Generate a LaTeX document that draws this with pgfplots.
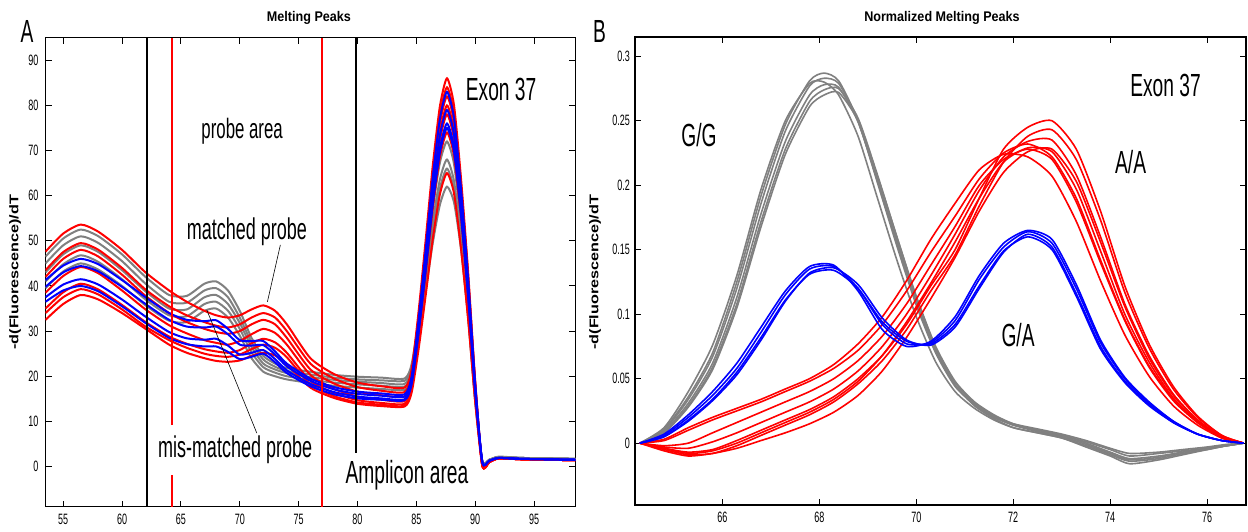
\documentclass[border=0pt]{standalone}
\usepackage{fontspec}
\setmainfont{Liberation Sans}[FakeStretch=0.6]
\newfontfamily\labfont{Liberation Sans}[FakeStretch=0.9]
\usepackage{pgfplots}
\usepackage{pgfplotstable}
\pgfplotsset{compat=1.18}

\definecolor{gcol}{RGB}{128,128,128}
\definecolor{rcol}{RGB}{255,0,0}
\definecolor{bcol}{RGB}{0,0,255}

% panel A: raw melting peaks, 5 G/G, 7 A/A, 4 G/A traces
\pgfplotstableread{
x    g1   g2   g3   g4   g5   r1   r2   r3   r4   r5   r6   r7   b1   b2   b3   b4
53.5 46.5 45   43   41   39.5 47.6 43.5 42   38.5 35   34   32.5 41.3 39.8 37.5 36.5
55   50.5 49   47   44.8 43.2 51.6 47.5 46   42.2 38.6 37.5 36   44.5 43   40.3 39
56.5 52.5 51   49   46.8 45   53.6 49.5 48   44.2 40.5 39.3 38   46   44.4 41.5 40
58   51   49.5 47.5 45.3 43.6 52   48   46.5 42.8 39.2 38.1 37   44.8 43.2 40.3 38.8
60   47   45.5 43.5 41.5 40   48   44   42.5 39   35.8 34.8 34   41.3 39.8 37   35.5
62   42   40.5 38.8 37   35.7 43   39.2 37.8 34.8 32   31   30.5 37.5 36   33.2 31.8
64   38   36.5 35   33.5 32.3 39   35.5 34   31.3 28.8 28   27   34   32.5 29.8 28.5
65.5 37.8 36.3 34.8 33.3 32   36.5 33.5 32   29.5 27.2 26.3 25.2 32.5 31   28.4 27.1
67   40.5 39   37.5 36   34.5 34.5 32   30.5 28   26   25   24   32.2 30.8 28.1 26.6
68   41   39.5 38   36.5 35   33.5 31.2 29.8 27.4 25.5 24.5 23.4 32.4 31   28.3 26.6
69   39   37.5 36   34.5 33   33   30.8 29.4 27   25.2 24.3 23.2 30.5 29.3 26.8 25.4
70   34.5 33   31.8 30.5 29   33.5 31.5 30   27.8 25.8 24.8 23.5 28   27   24.8 23.8
71   28.5 27.5 26.5 25.3 24   34.8 33   31.5 29.3 27.3 26   24.5 27.8 26.8 25.2 24.3
72   24.5 23.7 22.8 22   21   35.7 34   32.5 30.5 28.3 27   25.2 27.8 26.9 25.8 25
73   22.8 22.1 21.5 20.8 20   34.5 33   31.5 29.6 27.5 26.3 24.6 25.5 24.8 23.8 23.1
74   21.8 21.2 20.7 20   19.3 31.5 30   28.5 27   25.2 24.2 22.6 22.8 22.2 21.3 20.7
76   21   20.4 19.8 19.2 18.5 24   22.8 21.5 20.3 19   18.2 17.5 19.5 19   18.3 17.8
78   20.3 19.7 19.2 18.6 17.9 20.5 19.5 18.4 17.2 16.3 15.6 15.2 17.6 17.1 16.5 16
80   19.9 19.3 18.8 18.2 17.5 18.6 17.6 16.6 15.5 14.7 14.2 13.9 16.6 16.1 15.5 15.1
82   19.7 19.1 18.5 17.9 17.2 17.8 16.8 15.8 14.8 14.1 13.7 13.4 16.2 15.7 15.1 14.8
84   19.5 19   18.3 17.7 17   17.5 16.5 15.5 14.5 13.9 13.5 13.3 16   15.5 14.9 14.7
84.6 22.7 21.9 21.7 20.4 19.9 21.6 20.6 19.5 18.3 17.5 17.5 16.4 20   19.3 18.6 18.3
85.2 32.6 31.3 32.5 28.8 29.3 34.6 33.4 32.1 30.4 28.9 30.1 26.2 32.8 31.4 30.2 29.8
85.8 44.7 42.5 45.5 39   40.5 50.4 48.9 47.4 45   42.7 45.4 38.1 48.2 46   44.2 43.6
86.4 57.3 54.3 59.1 49.6 52.3 66.8 65.1 63.4 60.2 57.2 61.4 50.5 64.2 61.2 58.9 58.1
87.0 67.3 63.6 69.9 58   61.6 79.8 77.9 76   72.3 68.6 74   60.3 77   73.3 70.5 69.6
87.6 72   68   75   62   66   86   84   82   78   74   80   65   83   79   76   75
88.2 67   63.2 69.8 58.5 61.4 80   78.1 76.3 72.5 68.8 74.4 60.5 77.2 73.5 70.7 69.8
88.8 53.3 50.3 55.5 48   48.8 63.6 62.2 60.7 57.7 54.8 59.2 48.1 61.4 58.5 56.2 55.5
89.4 36   34   37.5 33   33   43   42   41   39   37   40   32.5 41.5 39.5 38   37.5
90.0 15.8 15   16.5 14.5 14.5 18.9 18.5 18   17.2 16.3 17.6 14.3 18.3 17.4 16.7 16.5
90.6 1.2  1.2  1.2  1.2  1.2  0.3  0.3  0.3  0.3  0.3  0.3  0.3  1.0  1.0  1.0  1.0
91.2 1.5  1.5  1.5  1.5  1.5  1.0  1.0  1.0  1.0  1.0  1.0  1.0  1.3  1.3  1.3  1.3
92   2.1  2.1  2.2  2.1  2.1  1.8  1.8  1.8  1.8  1.8  1.8  1.8  1.9  1.9  1.9  1.9
94   1.9  1.9  1.9  1.9  1.9  1.6  1.6  1.6  1.6  1.6  1.6  1.6  1.7  1.7  1.7  1.7
98.5 1.7  1.7  1.7  1.7  1.7  1.4  1.4  1.4  1.4  1.4  1.4  1.4  1.5  1.5  1.5  1.5
}\tabA

% panel B: normalized peaks
\pgfplotstableread{
x     g1    g2    g3    g4    g5    g6
64.3  0     0     0     0     0     0
64.8  .011  .010  .009  .008  .008  .012
65.3  .036  .034  .031  .029  .028  .040
65.8  .070  .067  .062  .059  .057  .076
66.3  .125  .120  .113  .108  .105  .130
66.8  .192  .186  .178  .172  .168  .197
67.3  .247  .242  .234  .228  .224  .250
67.8  .281  .277  .270  .265  .261  .279
68.1  .287  .283  .278  .274  .270  .280
68.4  .281  .279  .276  .275  .272  .270
68.8  .250  .250  .249  .252  .250  .238
69.2  .202  .203  .204  .208  .207  .190
69.6  .153  .155  .157  .160  .160  .142
70.0  .107  .109  .111  .113  .114  .098
70.4  .070  .071  .072  .074  .075  .063
70.8  .044  .045  .045  .047  .048  .040
71.2  .030  .030  .029  .031  .032  .027
71.6  .021  .020  .019  .021  .022  .018
72.0  .015  .014  .012  .014  .015  .012
72.5  .011  .010  .008  .009  .010  .008
73.0  .007  .006  .004  .005  .006  .004
73.5  .002  .001  -.002 -.001 .000  -.003
74.0  -.004 -.005 -.009 -.008 -.007 -.010
74.4  -.008 -.010 -.014 -.013 -.012 -.016
75.0  -.007 -.008 -.012 -.011 -.010 -.013
75.5  -.005 -.006 -.008 -.007 -.007 -.009
76.0  -.003 -.004 -.005 -.004 -.004 -.005
76.4  -.001 -.002 -.002 -.002 -.002 -.002
76.75 0     0     0     0     0     0
}\tabBg

\pgfplotstableread{
x     r1    r2    r3    r4    r5    r6    r7    r8    b1    b2    b3    b4
64.3  0     0     0     0     0     0     0     0     0     0     0     0
64.8  -.004 -.005 .002  .003  -.002 -.006 -.003 -.004 .006  .005  .007  .005
65.3  -.007 -.009 .010  .012  .000  -.010 -.004 -.008 .020  .017  .022  .018
65.8  -.005 -.008 .018  .020  .008  -.008 .001  -.006 .037  .033  .040  .034
66.3  .002  -.002 .025  .027  .016  -.004 .008  .000  .058  .053  .062  .055
66.8  .010  .006  .032  .034  .024  .002  .016  .008  .086  .080  .090  .082
67.3  .018  .014  .040  .042  .032  .008  .024  .016  .115  .110  .118  .111
67.8  .026  .022  .048  .050  .040  .015  .032  .024  .135  .132  .137  .131
68.3  .036  .032  .058  .061  .050  .024  .042  .034  .137  .136  .138  .134
68.8  .050  .046  .072  .077  .064  .037  .056  .048  .120  .123  .118  .120
69.3  .068  .064  .092  .098  .083  .056  .075  .068  .092  .097  .088  .094
69.8  .092  .088  .118  .126  .108  .082  .100  .094  .077  .080  .075  .079
70.3  .122  .118  .148  .158  .138  .112  .130  .124  .078  .076  .079  .077
70.8  .150  .146  .176  .186  .168  .144  .162  .156  .095  .090  .098  .092
71.3  .190  .184  .205  .212  .200  .180  .196  .190  .127  .120  .130  .122
71.8  .228  .218  .225  .224  .220  .210  .222  .218  .152  .148  .155  .149
72.3  .245  .238  .232  .222  .228  .226  .234  .229  .164  .162  .165  .160
72.8  .250  .243  .222  .207  .220  .228  .235  .226  .155  .152  .158  .150
73.3  .228  .220  .190  .172  .187  .203  .208  .197  .120  .116  .123  .114
73.8  .180  .173  .142  .126  .140  .156  .160  .149  .078  .075  .080  .073
74.3  .122  .117  .096  .084  .095  .106  .108  .100  .050  .048  .051  .047
74.8  .077  .074  .060  .052  .059  .066  .068  .063  .031  .030  .032  .029
75.3  .044  .042  .034  .029  .033  .037  .038  .035  .017  .016  .017  .016
75.8  .021  .020  .016  .014  .016  .018  .018  .017  .007  .007  .007  .007
76.3  .006  .006  .005  .004  .004  .005  .005  .005  .002  .002  .002  .002
76.75 0     0     0     0     0     0     0     0     0     0     0     0
}\tabBrb

\pgfplotsset{
  melt/.style={
    scale only axis,
    tick align=inside,
    major tick length=3pt,
    axis line style={line width=0.7pt},
    every tick/.style={black, line width=0.5pt},
    ticklabel style={font=\fontsize{7.5}{8}\selectfont},
    /pgf/number format/assume math mode=true,
  },
}

\begin{document}
\begin{tikzpicture}
\useasboundingbox (0,0) rectangle (624pt,265.5pt);

\begin{axis}[melt,
  at={(22.75pt,12.15pt)}, anchor=south west,
  width=264.9pt, height=234.5pt,
  xmin=53.5, xmax=98.5, ymin=-8.9, ymax=95,
  xtick={55,60,...,95}, ytick={0,10,...,90},
]
\pgfplotsinvokeforeach{g1,g2,g3,g4,g5}{
  \addplot[gcol, line width=1pt, smooth, tension=0.4] table[x=x, y=#1] {\tabA};
}
\pgfplotsinvokeforeach{r1,r2,r3,r4,r5,r6,r7}{
  \addplot[rcol, line width=1pt, smooth, tension=0.4] table[x=x, y=#1] {\tabA};
}
\pgfplotsinvokeforeach{b1,b2,b3,b4}{
  \addplot[bcol, line width=1pt, smooth, tension=0.4] table[x=x, y=#1] {\tabA};
}
% probe and amplicon window limits, broken where the labels sit
\addplot[color=black, line width=1pt] coordinates {(62.16,-8.9) (62.16,95)};
\addplot[color=black, line width=1pt] coordinates {(79.85,3.0) (79.85,95)};
\addplot[color=red, line width=1pt] coordinates {(64.24,9.2) (64.24,95)};
\addplot[color=red, line width=1pt] coordinates {(64.24,-8.9) (64.24,-1.8)};
\addplot[color=red, line width=1.1pt] coordinates {(77.0,-8.9) (77.0,95)};
\draw[black, line width=0.3pt] (73.45,49.1) -- (72.35,36.5);
\draw[black, line width=0.3pt] (71.45,7.4) -- (67.2,34.7);
\node[anchor=base, font=\fontsize{16}{18}\selectfont] at (92.2,81.2) {Exon 37};
\node[anchor=base, font=\fontsize{14}{16}\selectfont] at (70.2,72.7) {probe area};
\node[anchor=base, font=\fontsize{15}{18}\selectfont] at (70.6,50.4) {matched probe};
\node[anchor=base, font=\fontsize{15}{18}\selectfont] at (69.6,1.9) {mis-matched probe};
\node[anchor=base, font=\fontsize{16}{18}\selectfont] at (84.2,-3.8) {Amplicon area};
\end{axis}

\begin{axis}[melt,
  at={(317.5pt,13pt)}, anchor=south west,
  width=305.5pt, height=234pt,
  xmin=64.2, xmax=76.8, ymin=-0.048, ymax=0.315,
  xtick={66,68,...,76},
  ytick={0,0.05,0.1,0.15,0.2,0.25,0.3},
  yticklabels={0,0.05,0.1,0.15,0.2,0.25,0.3},
  yticklabel style={xshift=1pt},
]
\pgfplotsinvokeforeach{g1,g2,g3,g4,g5,g6}{
  \addplot[gcol, line width=0.8pt, smooth, tension=0.4] table[x=x, y=#1] {\tabBg};
}
\pgfplotsinvokeforeach{r1,r2,r3,r4,r5,r6,r7,r8}{
  \addplot[rcol, line width=0.8pt, smooth, tension=0.4] table[x=x, y=#1] {\tabBrb};
}
\pgfplotsinvokeforeach{b1,b2,b3,b4}{
  \addplot[bcol, line width=0.8pt, smooth, tension=0.4] table[x=x, y=#1] {\tabBrb};
}
\node[anchor=base, font=\fontsize{16}{18}\selectfont] at (65.52,0.230) {G/G};
\node[anchor=base, font=\fontsize{16}{18}\selectfont] at (75.14,0.269) {Exon 37};
\node[anchor=base, font=\fontsize{16}{18}\selectfont] at (74.42,0.2095) {A/A};
\node[anchor=base, font=\fontsize{16}{18}\selectfont] at (72.1,0.0747) {G/A};
\end{axis}

% titles, panel letters, y labels
\node[font=\labfont\bfseries\fontsize{7}{8}\selectfont] at (154.5pt,256.5pt) {Melting Peaks};
\node[font=\labfont\bfseries\fontsize{7}{8}\selectfont] at (471pt,256.5pt) {Normalized Melting Peaks};
\node[anchor=base, font=\fontsize{16}{18}\selectfont] at (13.5pt,244pt) {A};
\node[anchor=base, font=\fontsize{16}{18}\selectfont] at (299.7pt,244pt) {B};
\node[rotate=90] at (7.5pt,129.4pt) {\scalebox{1}[0.7]{\labfont\bfseries\fontsize{9}{10}\selectfont -d(Fluorescence)/dT}};
\node[rotate=90] at (297.5pt,129.4pt) {\scalebox{1}[0.7]{\labfont\bfseries\fontsize{9}{10}\selectfont -d(Fluorescence)/dT}};
\end{tikzpicture}
\end{document}
